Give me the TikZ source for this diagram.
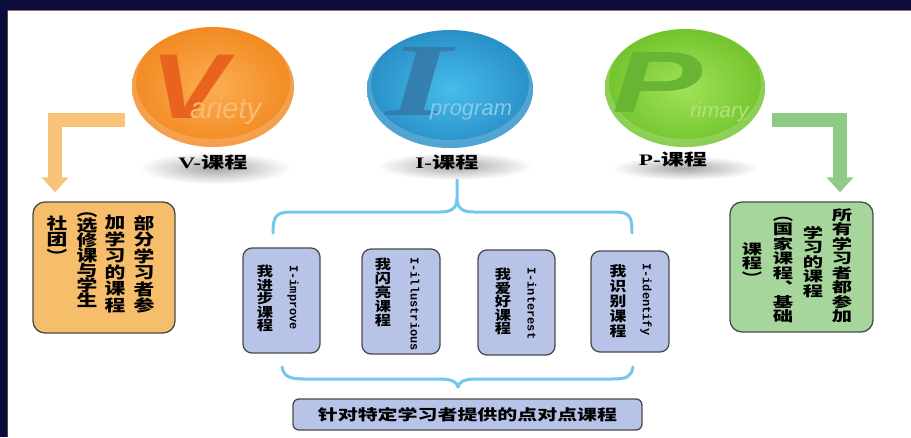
\documentclass[tikz,border=0pt]{standalone}
\usepackage{fontspec}
\setmainfont{Liberation Serif}
\newfontfamily\cjk{Noto Sans CJK SC}
\newfontfamily\monof{Liberation Mono}
\newfontfamily\sansf{Liberation Sans}
\usetikzlibrary{shapes.geometric,arrows.meta,fadings}
\newcommand\mystack[2]{\vbox{\baselineskip=#1\lineskiplimit=-\maxdimen\lineskip=0pt\halign{\hfil##\hfil\cr#2\crcr}}}
\definecolor{navy}{HTML}{0B0B3C}
\definecolor{vorange}{HTML}{F28A22}
\definecolor{vorangeL}{HTML}{FBAE52}
\definecolor{vletter}{HTML}{E8631D}
\definecolor{vtext}{HTML}{F9BC74}
\definecolor{iblue}{HTML}{2A8FC8}
\definecolor{iblueL}{HTML}{45BDEB}
\definecolor{iletter}{HTML}{3479A6}
\definecolor{itext}{HTML}{86CAEA}
\definecolor{pgreen}{HTML}{72C42E}
\definecolor{pgreenL}{HTML}{A2E258}
\definecolor{pletter}{HTML}{68B533}
\definecolor{ptext}{HTML}{B0E27E}
\definecolor{oarr}{HTML}{F8C47A}
\definecolor{garr}{HTML}{8FCB86}
\definecolor{obox}{HTML}{F6BD6A}
\definecolor{gbox}{HTML}{A7D69C}
\definecolor{ibox}{HTML}{B8C3E8}
\definecolor{bracec}{HTML}{74C6EA}
\definecolor{edge}{HTML}{4A4A4A}
\definecolor{bandline}{HTML}{9A6B6B}
\begin{document}
\begin{tikzpicture}[x=1pt,y=-1pt,
  ballnode/.style={ellipse, inner sep=0pt, outer sep=0pt},
  lab/.style={inner sep=0pt, font=\bfseries\fontsize{16}{16}\selectfont},
  boxstyle/.style={draw=edge, line width=1.3pt, inner sep=0pt},
  colstyle/.style={inner sep=0pt, font=\cjk\bfseries},
  latstyle/.style={inner sep=0pt, rotate=-90, anchor=west, font=\monof\bfseries\fontsize{12}{12}\selectfont},
  bracestyle/.style={draw=bracec, line width=3pt, line cap=round},
  bigarrow/.style={line width=14pt, -{Triangle[width=26pt,length=15pt]}}]
\useasboundingbox (0,0) rectangle (911,437);
\fill[white] (0,0) rectangle (911,437);
\fill[navy] (0,0) rectangle (911,10);
\fill[navy] (0,0) rectangle (7,437);
\draw[bandline, line width=1pt] (7,10.5) -- (911,10.5);
\draw[black!70, line width=1pt] (7.5,10) -- (7.5,437);

% shadows under labels
\shade[inner color=black!35, outer color=white] (215,168) ellipse [x radius=76pt, y radius=16pt];
\shade[inner color=black!35, outer color=white] (455,166) ellipse [x radius=78pt, y radius=14pt];
\shade[inner color=black!35, outer color=white] (685,168) ellipse [x radius=74pt, y radius=12pt];

% balls
\node[ballnode, minimum width=162pt, minimum height=120pt, inner color=vorangeL, outer color=vorange] (V) at (213,87) {};
\node[ballnode, minimum width=166pt, minimum height=118pt, inner color=iblueL, outer color=iblue] (I) at (450,89) {};
\node[ballnode, minimum width=160pt, minimum height=118pt, inner color=pgreenL, outer color=pgreen] (P) at (685,88) {};

\begin{scope}
\clip (213,87) ellipse [x radius=81pt, y radius=60pt];
\fill[white, opacity=0.18, even odd rule] (213,87) ellipse [x radius=81pt, y radius=60pt] (213,82) ellipse [x radius=77pt, y radius=57pt];
\node[anchor=base west, inner sep=0pt, text=vletter, font=\sansf\bfseries\itshape\fontsize{92}{92}\selectfont] (Vbig) at (150,118) {\scalebox{1.25}[1]{V}};
\node[anchor=base west, inner sep=0pt, text=vtext, font=\sansf\itshape\fontsize{29}{29}\selectfont] (Vsmall) at (190,118) {ariety};
\end{scope}
\begin{scope}
\clip (450,89) ellipse [x radius=83pt, y radius=59pt];
\fill[white, opacity=0.18, even odd rule] (450,89) ellipse [x radius=83pt, y radius=59pt] (450,84) ellipse [x radius=79pt, y radius=56pt];
\node[anchor=base west, inner sep=0pt, text=iletter, opacity=0.85, font=\bfseries\itshape\fontsize{104}{104}\selectfont] (Ibig) at (386,115) {\scalebox{1.6}[1]{I}};
\node[anchor=base west, inner sep=0pt, text=itext, font=\sansf\itshape\fontsize{22}{22}\selectfont] (Ismall) at (430,115) {program};
\end{scope}
\begin{scope}
\clip (685,88) ellipse [x radius=80pt, y radius=59pt];
\fill[white, opacity=0.18, even odd rule] (685,88) ellipse [x radius=80pt, y radius=59pt] (685,83) ellipse [x radius=76pt, y radius=56pt];
\node[anchor=base west, inner sep=0pt, text=pletter, font=\sansf\bfseries\itshape\fontsize{87}{87}\selectfont] (Pbig) at (612,112) {\scalebox{1.55}[1]{P}};
\node[anchor=base west, inner sep=0pt, text=ptext, font=\sansf\itshape\fontsize{21}{21}\selectfont] (Psmall) at (690,117) {rimary};
\end{scope}

% labels
\node[lab] (Vlab) at (213,162) {\scalebox{1.45}[1]{V-{\cjk\bfseries 课程}}};
\node[lab] (Ilab) at (447,162) {\scalebox{1.45}[1]{I-{\cjk\bfseries 课程}}};
\node[lab] (Plab) at (673,159) {\scalebox{1.45}[1]{P-{\cjk\bfseries 课程}}};

% side boxes
\node[boxstyle, fill=obox, rounded corners=12pt, minimum width=142pt, minimum height=131pt] (ob) at (104,267.5) {};
\node[boxstyle, fill=gbox, rounded corners=12pt, minimum width=143pt, minimum height=130pt] (gb) at (801.5,267) {};

% elbow arrows
\draw[bigarrow, oarr] ([shift={(-7pt,-33pt)}]V.west) -| ([shift={(-49pt,9pt)}]ob.north);
\draw[bigarrow, garr] ([shift={(7pt,-32pt)}]P.east) -| ([shift={(38.5pt,9pt)}]gb.north);

% orange box text
\node[colstyle, anchor=north] (o1) at (144,215) {\scalebox{1.3}[1]{\fontsize{16}{16}\selectfont\mystack{16.5pt}{部\cr 分\cr 学\cr 习\cr 者\cr 参}}};
\node[colstyle, anchor=north] (o2) at (115,215) {\scalebox{1.3}[1]{\fontsize{16}{16}\selectfont\mystack{16.5pt}{加\cr 学\cr 习\cr 的\cr 课\cr 程}}};
\node[colstyle, anchor=north] (o3) at (87,213) {\scalebox{1.3}[1]{\fontsize{16}{16}\selectfont\mystack{15pt}{︵\cr 选\cr 修\cr 课\cr 与\cr 学\cr 生}}};
\node[colstyle, anchor=north] (o4) at (57,215) {\scalebox{1.3}[1]{\fontsize{16}{16}\selectfont\mystack{16.5pt}{社\cr 团\cr ︶}}};

% green box text
\node[colstyle] (g1) at (842,266) {\scalebox{1.45}[1]{\fontsize{14}{14}\selectfont\mystack{14.5pt}{所\cr 有\cr 学\cr 习\cr 者\cr 都\cr 参\cr 加}}};
\node[colstyle] (g2) at (813,262) {\scalebox{1.45}[1]{\fontsize{14}{14}\selectfont\mystack{14.5pt}{学\cr 习\cr 的\cr 课\cr 程}}};
\node[colstyle] (g3) at (783,270) {\scalebox{1.45}[1]{\fontsize{14}{14}\selectfont\mystack{14.5pt}{︵\cr 国\cr 家\cr 课\cr 程\cr ︑\cr 基\cr 础}}};
\node[colstyle] (g4) at (752,263) {\scalebox{1.45}[1]{\fontsize{14}{14}\selectfont\mystack{14.5pt}{课\cr 程\cr ︶}}};

% I boxes
\node[boxstyle, fill=ibox, rounded corners=9pt, minimum width=77pt, minimum height=105pt] (ib1) at (281.5,300.5) {};
\node[boxstyle, fill=ibox, rounded corners=9pt, minimum width=78pt, minimum height=105pt] (ib2) at (401,301.5) {};
\node[boxstyle, fill=ibox, rounded corners=9pt, minimum width=77pt, minimum height=105pt] (ib3) at (516.5,302.5) {};
\node[boxstyle, fill=ibox, rounded corners=9pt, minimum width=78pt, minimum height=101pt] (ib4) at (630,301.5) {};

\node[colstyle, anchor=north] (c1) at (265,265) {\scalebox{1.2}[1]{\fontsize{13.5}{13.5}\selectfont\mystack{13.5pt}{我\cr 进\cr 步\cr 课\cr 程}}};
\node[latstyle] (l1) at (293,265) {I-improve};
\node[colstyle, anchor=north] (c2) at (383,258) {\scalebox{1.2}[1]{\fontsize{13.5}{13.5}\selectfont\mystack{14pt}{我\cr 闪\cr 亮\cr 课\cr 程}}};
\node[latstyle] (l2) at (415,257) {I-illustrious};
\node[colstyle, anchor=north] (c3) at (503,268) {\scalebox{1.2}[1]{\fontsize{13.5}{13.5}\selectfont\mystack{13.5pt}{我\cr 爱\cr 好\cr 课\cr 程}}};
\node[latstyle] (l3) at (532,267) {I-interest};
\node[colstyle, anchor=north] (c4) at (618,264) {\scalebox{1.2}[1]{\fontsize{14}{14}\selectfont\mystack{15pt}{我\cr 识\cr 别\cr 课\cr 程}}};
\node[latstyle] (l4) at (646,263) {I-identify};

% bottom box
\node[boxstyle, fill=ibox, rounded corners=6pt, minimum width=349pt, minimum height=31pt] (bb) at (467.5,414.5) {};
\node[colstyle] (bt) at (bb.center) {\scalebox{1.33}[1]{\fontsize{15}{15}\selectfont 针对特定学习者提供的点对点课程}};

% braces
\draw[bracestyle] (273,233) .. controls (273,216) and (276,212) .. (292,212) -- (440,212) .. controls (452,212) and (457,208) .. (457,198) -- (457,180);
\draw[bracestyle] (457,198) .. controls (457,208) and (462,212) .. (474,212) -- (614,212) .. controls (630,212) and (632,216) .. (632,233);
\draw[bracestyle] (282,367) .. controls (284,377) and (290,379) .. (305,379) -- (440,379) .. controls (452,379) and (457,382) .. (458,387);
\draw[bracestyle] (458,387) .. controls (459,382) and (464,379) .. (476,379) -- (612,379) .. controls (627,379) and (631,377) .. (633,367);
\end{tikzpicture}
\end{document}
